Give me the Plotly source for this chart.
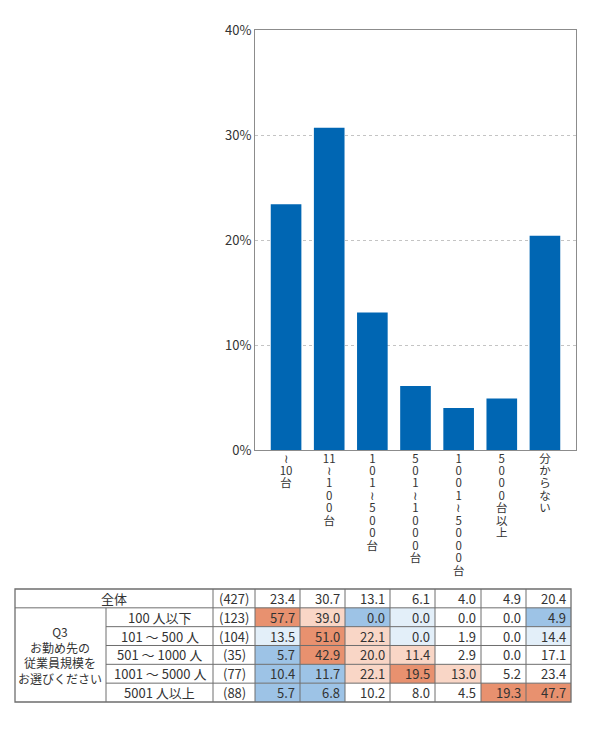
import plotly.graph_objects as go

# --- data ---
categories = ["~10台", "11~100台", "101~500台", "501~1000台", "1001~5000台", "5000台以上", "分からない"]
total_pct = [23.4, 30.7, 13.1, 6.1, 4.0, 4.9, 20.4]

# vertical label pieces (one entry per stacked line)
tick_pieces = [
    ["≀", "10", "台"],
    ["11", "≀", "1", "0", "0", "台"],
    ["1", "0", "1", "≀", "5", "0", "0", "台"],
    ["5", "0", "1", "≀", "1", "0", "0", "0", "台"],
    ["1", "0", "0", "1", "≀", "5", "0", "0", "0", "台"],
    ["5", "0", "0", "0", "台", "以", "上"],
    ["分", "か", "ら", "な", "い"],
]

row_labels = ["100 人以下", "101 ～ 500 人", "501 ～ 1000 人", "1001 ～ 5000 人", "5001 人以上"]
row_n = [123, 104, 35, 77, 88]
total_n = 427
row_values = [
    [57.7, 39.0, 0.0, 0.0, 0.0, 0.0, 4.9],
    [13.5, 51.0, 22.1, 0.0, 1.9, 0.0, 14.4],
    [5.7, 42.9, 20.0, 11.4, 2.9, 0.0, 17.1],
    [10.4, 11.7, 22.1, 19.5, 13.0, 5.2, 23.4],
    [5.7, 6.8, 10.2, 8.0, 4.5, 19.3, 47.7],
]
group_label = "Q3<br>お勤め先の<br>従業員規模を<br>お選びください"

# --- styling ---
W, H = 590, 737
BAR_COLOR = "#0066b3"
TEXT = "#333333"
LINE = "#6e6e6e"
FONT = "Noto Sans CJK JP"
STRONG_UP, UP = "#e8916f", "#f9d6c6"
STRONG_DOWN, DOWN = "#9dc3e6", "#e3eff9"


def px_x(x):
    return x / W


def px_y(y):
    return 1 - y / H


def vlabel(parts):
    # plotly spaces lines by the base font size, so a larger span keeps the stack tight
    return "<br>".join(f"<span style='font-size:11.5px'>{p}</span>" for p in parts)


def cell_color(v, base):
    d = v - base
    if d >= 10:
        return STRONG_UP
    if d >= 5:
        return UP
    if d <= -10:
        return STRONG_DOWN
    if d <= -5:
        return DOWN
    return None


fig = go.Figure(go.Bar(
    x=categories, y=total_pct,
    marker=dict(color=BAR_COLOR, line=dict(width=0)),
    hoverinfo="x+y",
))

fig.update_layout(
    width=W, height=H,
    margin=dict(l=0, r=0, t=0, b=0, autoexpand=False),
    paper_bgcolor="white", plot_bgcolor="white",
    font=dict(family=FONT, color=TEXT),
    showlegend=False,
    bargap=0.29,
    xaxis=dict(
        domain=[px_x(255), px_x(576)],
        range=[-0.72, 6.72],
        tickvals=categories,
        ticktext=[vlabel(p) for p in tick_pieces],
        tickfont=dict(size=9.6, color=TEXT),
        tickangle=0, automargin=False,
        showline=True, linecolor="#8c8c8c", linewidth=1, mirror=True,
        showgrid=False, ticks="",
    ),
    yaxis=dict(
        domain=[px_y(450), px_y(30)],
        range=[0, 40], dtick=10, ticksuffix="%",
        tickfont=dict(size=13, color=TEXT),
        automargin=False,
        showline=True, linecolor="#8c8c8c", linewidth=1, mirror=True,
        showgrid=True, gridcolor="#c4c4c4", griddash="3px,3px", gridwidth=1,
        zeroline=False, ticks="",
    ),
)

# --- table below the chart ---
col_edges = [15, 106, 213, 255, 300, 345, 390, 435, 481, 526, 571]
top, row_h = 589, 18.83
row_edges = [top + i * row_h for i in range(len(row_labels) + 2)]
bottom = row_edges[-1]

shapes = []
annotations = []


def add_text(text, x0, x1, r0, r1, align="center", size=13):
    if align == "right":
        x, anchor = x1 - 3, "right"
    else:
        x, anchor = (x0 + x1) / 2, "center"
    annotations.append(dict(
        x=px_x(x), y=px_y((r0 + r1) / 2), xref="paper", yref="paper",
        text=text, showarrow=False, xanchor=anchor, yanchor="middle",
        font=dict(size=size, color=TEXT, family=FONT),
    ))


# colored cells
for i, vals in enumerate(row_values):
    for j, v in enumerate(vals):
        c = cell_color(v, total_pct[j])
        if c:
            shapes.append(dict(
                type="rect", xref="paper", yref="paper",
                x0=px_x(col_edges[3 + j]), x1=px_x(col_edges[4 + j]),
                y0=px_y(row_edges[i + 1]), y1=px_y(row_edges[i + 2]),
                fillcolor=c, line=dict(width=0), layer="below",
            ))


# grid lines
def hline(y, x0, x1):
    shapes.append(dict(type="line", xref="paper", yref="paper",
                       x0=px_x(x0), x1=px_x(x1), y0=px_y(y), y1=px_y(y),
                       line=dict(color=LINE, width=1)))


def vline(x, y0, y1):
    shapes.append(dict(type="line", xref="paper", yref="paper",
                       x0=px_x(x), x1=px_x(x), y0=px_y(y0), y1=px_y(y1),
                       line=dict(color=LINE, width=1)))


hline(row_edges[1], col_edges[0], col_edges[-1])
for y in row_edges[2:-1]:
    hline(y, col_edges[1], col_edges[-1])
vline(col_edges[1], row_edges[1], bottom)
for x in col_edges[2:-1]:
    vline(x, top, bottom)
shapes.append(dict(type="rect", xref="paper", yref="paper",
                   x0=px_x(col_edges[0]), x1=px_x(col_edges[-1]),
                   y0=px_y(top), y1=px_y(bottom),
                   line=dict(color=LINE, width=1.3)))

# header row (全体)
add_text("全体", col_edges[0], col_edges[2], row_edges[0], row_edges[1])
add_text(f"({total_n})", col_edges[2], col_edges[3], row_edges[0], row_edges[1])
for j, v in enumerate(total_pct):
    add_text(f"{v:.1f}", col_edges[3 + j], col_edges[4 + j], row_edges[0], row_edges[1], align="right")

# group label
add_text(group_label, col_edges[0], col_edges[1], row_edges[1], bottom, size=12)

for i, lab in enumerate(row_labels):
    r0, r1 = row_edges[i + 1], row_edges[i + 2]
    add_text(lab, col_edges[1], col_edges[2], r0, r1)
    add_text(f"({row_n[i]})", col_edges[2], col_edges[3], r0, r1)
    for j, v in enumerate(row_values[i]):
        add_text(f"{v:.1f}", col_edges[3 + j], col_edges[4 + j], r0, r1, align="right")

fig.update_layout(shapes=shapes, annotations=annotations)

# page body has a default margin; drop it so the figure sits at the window corner
fig.write_html("out.html", config={"displayModeBar": False},
               post_script="document.body.style.margin='0';")
